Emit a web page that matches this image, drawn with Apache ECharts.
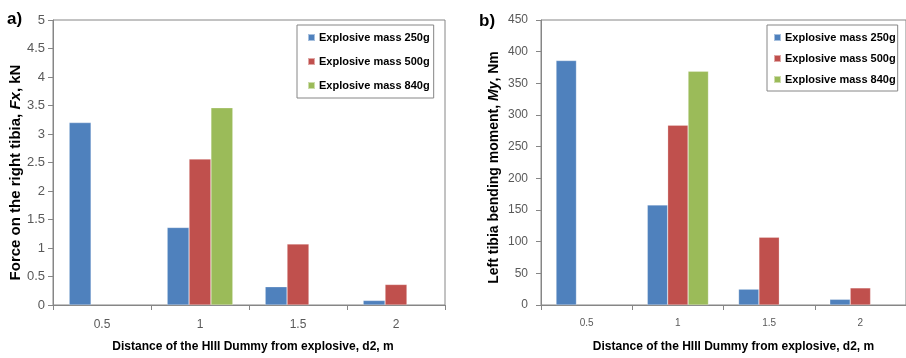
<!DOCTYPE html>
<html>
<head>
<meta charset="utf-8">
<script src="https://cdn.jsdelivr.net/npm/echarts@6/dist/echarts.min.js"></script>
<style>
html,body{margin:0;padding:0;background:#fff;}
#c{width:906px;height:358px;}
</style>
</head>
<body>
<div id="c"></div>
<script>
var categories = ['0.5', '1', '1.5', '2'];
var seriesNames = ['Explosive mass 250g', 'Explosive mass 500g', 'Explosive mass 840g'];
// Panel a) Force on the right tibia, Fx, kN
var forceMass250 = [3.2, 1.36, 0.32, 0.08];
var forceMass500 = [null, 2.56, 1.07, 0.36];
var forceMass840 = [null, 3.46, null, null];
// Panel b) Left tibia bending moment, My, Nm
var momentMass250 = [386, 158, 25, 9];
var momentMass500 = [null, 284, 107, 27];
var momentMass840 = [null, 369, null, null];

var colors = ['#4F81BD', '#C0504D', '#9BBB59'];
var sans = "'Liberation Sans', Arial, sans-serif";
var axisGray = '#868686';
var labelGray = '#595959';

function legendCfg(left, gap, pad) {
  return {
    orient: 'vertical', left: left, top: 25,
    itemWidth: 7, itemHeight: 7, itemGap: gap,
    icon: 'rect',
    padding: pad,
    borderColor: axisGray, borderWidth: 1, backgroundColor: '#fff',
    selectedMode: false,
    textStyle: { fontFamily: sans, fontWeight: 'bold', fontSize: 11, color: '#000', padding: [0, 0, 0, -1] },
    data: seriesNames
  };
}

function xAxisCfg(gridIndex, fontSize, labelMargin, gap, namePadLeft) {
  return {
    type: 'category', gridIndex: gridIndex, data: categories,
    axisLine: { lineStyle: { color: axisGray, width: 1 } },
    axisTick: { show: true, length: 5, lineStyle: { color: axisGray } },
    axisLabel: { fontFamily: sans, fontSize: fontSize, color: labelGray, margin: labelMargin },
    name: 'Distance of the HIII Dummy from explosive, d2, m',
    nameLocation: 'middle', nameGap: gap,
    nameTextStyle: { fontFamily: sans, fontWeight: 'bold', fontSize: 12, color: '#000', padding: [0, 0, 0, namePadLeft] }
  };
}

function yAxisCfg(gridIndex, max, interval, fontSize, name, nameSize, gap, labelMargin, shiftPad) {
  return {
    type: 'value', gridIndex: gridIndex, min: 0, max: max, interval: interval,
    splitLine: { show: false },
    axisLine: { show: true, lineStyle: { color: axisGray, width: 1 } },
    axisTick: { show: true, length: 5, lineStyle: { color: axisGray } },
    axisLabel: { fontFamily: sans, fontSize: fontSize, color: labelGray, margin: labelMargin },
    name: name, nameLocation: 'middle', nameGap: gap, nameRotate: 90,
    nameTextStyle: {
      fontFamily: sans, fontWeight: 'bold', fontSize: nameSize, color: '#000',
      padding: [0, shiftPad, 0, 0],
      rich: { i: { fontFamily: sans, fontWeight: 'bold', fontStyle: 'italic', fontSize: nameSize, color: '#000' } }
    }
  };
}

function barSeries(name, data, idx, axisIdx) {
  return {
    type: 'bar', name: name, data: data,
    xAxisIndex: axisIdx, yAxisIndex: axisIdx,
    barGap: '0%', barCategoryGap: '33%',
    itemStyle: { color: colors[idx], borderColor: 'rgba(255,255,255,0.5)', borderWidth: 0.5 },
    silent: true, animation: false
  };
}

var chart = echarts.init(document.getElementById('c'), null, { renderer: 'canvas' });
chart.setOption({
  animation: false,
  color: colors,
  title: [
    { text: 'a)', left: 2, top: 6, textStyle: { fontFamily: sans, fontWeight: 'bold', fontSize: 17, color: '#000' } },
    { text: 'b)', left: 474, top: 8, textStyle: { fontFamily: sans, fontWeight: 'bold', fontSize: 17, color: '#000' } }
  ],
  legend: [legendCfg(297, 13, [7, 4, 7, 10]), legendCfg(767, 10, [7, 2, 6, 6])],
  grid: [
    { left: 53, top: 20, width: 392, height: 286, show: true, borderColor: axisGray, borderWidth: 1 },
    { left: 541, top: 20, width: 369, height: 292, show: true, borderColor: axisGray, borderWidth: 1 }
  ],
  xAxis: [xAxisCfg(0, 12, 14, 36, 8), xAxisCfg(1, 10, 13, 36, 20)],
  yAxis: [
    yAxisCfg(0, 5, 0.5, 13, 'Force on the right tibia, {i|Fx}, kN', 15, 27, 8, 20),
    yAxisCfg(1, 450, 50, 12, 'Left tibia bending moment, {i|My}, Nm', 14, 40, 13, 10)
  ],
  series: [
    barSeries(seriesNames[0], forceMass250, 0, 0),
    barSeries(seriesNames[1], forceMass500, 1, 0),
    barSeries(seriesNames[2], forceMass840, 2, 0),
    barSeries(seriesNames[0], momentMass250, 0, 1),
    barSeries(seriesNames[1], momentMass500, 1, 1),
    barSeries(seriesNames[2], momentMass840, 2, 1)
  ]
});
</script>
</body>
</html>
